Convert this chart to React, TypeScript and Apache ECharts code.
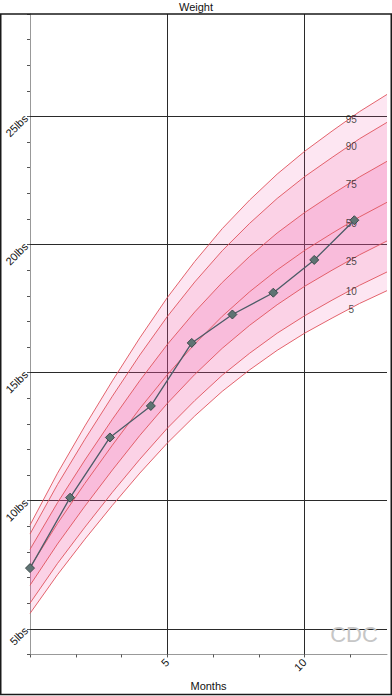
import React, { useEffect, useRef } from "react";
import * as echarts from "echarts";

// months 0..13
const months = [0, 1, 2, 3, 4, 5, 6, 7, 8, 9, 10, 11, 12, 13];
const p5 = [5.6, 7.11, 8.5, 9.82, 11.08, 12.25, 13.31, 14.27, 15.11, 15.87, 16.54, 17.13, 17.7, 18.2];
const p10 = [6.0, 7.55, 8.97, 10.33, 11.62, 12.83, 13.91, 14.9, 15.76, 16.54, 17.22, 17.83, 18.41, 18.93];
const p25 = [6.7, 8.31, 9.79, 11.2, 12.55, 13.8, 14.93, 15.95, 16.85, 17.65, 18.37, 19.0, 19.6, 20.14];
const p50 = [7.4, 9.11, 10.68, 12.17, 13.6, 14.92, 16.12, 17.2, 18.16, 19.01, 19.77, 20.44, 21.08, 21.65];
const p75 = [8.1, 9.92, 11.59, 13.18, 14.69, 16.1, 17.37, 18.52, 19.54, 20.45, 21.25, 21.96, 22.64, 23.25];
const p90 = [8.7, 10.63, 12.4, 14.08, 15.69, 17.19, 18.54, 19.76, 20.83, 21.8, 22.65, 23.4, 24.13, 24.77];
const p95 = [9.05, 11.07, 12.92, 14.68, 16.36, 17.93, 19.34, 20.62, 21.74, 22.75, 23.64, 24.43, 25.19, 25.86];

const childMonths = [0, 1.46, 2.91, 4.4, 5.89, 7.37, 8.86, 10.35, 11.81];
const childWeights = [7.37, 10.12, 12.47, 13.7, 16.16, 17.27, 18.12, 19.4, 20.95];

const yTicks = [4, 5, 6, 7, 8, 9, 10, 11, 12, 13, 14, 15, 16, 17, 18, 19, 20, 21, 22, 23, 24, 25, 26, 27, 28, 29];
const yLabels = [5, 10, 15, 20, 25];
const xTicks = [0, 1.667, 3.333, 5, 6.667, 8.333, 10, 11.667];
const xLabels = [5, 10];

const percentileNames = ["5", "10", "25", "50", "75", "90", "95"];
const labelMonth = 11.7;

const FONT = "Liberation Sans, Arial, sans-serif";
const RED = "#e0525c";
const LIGHT = "rgba(240,80,160,0.14)";
const MED = "rgba(240,80,160,0.26)";
const DARK = "rgba(240,80,160,0.38)";

export default function App() {
  const ref = useRef<HTMLDivElement>(null);
  useEffect(() => {
    if (!ref.current) return;
    const chart = echarts.init(ref.current, undefined, { renderer: "svg" });
    const curves = [p5, p10, p25, p50, p75, p90, p95];
    const bandFills = [LIGHT, MED, DARK, DARK, MED, LIGHT];

    const series: any[] = [];
    // bands between consecutive percentile curves
    series.push({
      type: "custom",
      silent: true,
      z: 2,
      data: bandFills.map((_, i) => [i]),
      renderItem: (params: any, api: any) => {
        const i = api.value(0);
        const lo = curves[i];
        const hi = curves[i + 1];
        const pts: number[][] = [];
        months.forEach((m, j) => pts.push(api.coord([m, lo[j]])));
        for (let j = months.length - 1; j >= 0; j--) pts.push(api.coord([months[j], hi[j]]));
        return {
          type: "polygon",
          shape: { points: pts },
          style: { fill: bandFills[i], stroke: "none" },
        };
      },
    });
    curves.forEach((c, i) => {
      const s: any = {
        type: "line",
        name: "p" + percentileNames[i],
        symbol: "none",
        silent: true,
        z: 3,
        lineStyle: { color: RED, width: 0.9 },
        data: months.map((m, j) => [m, c[j]]),
      };
      if (i === 0) {
        s.markLine = {
          silent: true,
          z: 1,
          symbol: ["none", "none"],
          label: { show: false },
          lineStyle: { color: "#2a2a2a", width: 1, type: "solid" },
          data: [
            ...yLabels.map((v) => ({ yAxis: v })),
            ...xLabels.map((v) => ({ xAxis: v })),
          ],
        };
      }
      series.push(s);
    });
    const labelIdx = Math.floor(labelMonth);
    const frac = labelMonth - labelIdx;
    series.push({
      type: "scatter",
      silent: true,
      symbolSize: 1,
      itemStyle: { color: "rgba(0,0,0,0)" },
      label: {
        show: true,
        position: "inside",
        formatter: (p: any) => p.name,
        color: "#1a1a1a",
        fontSize: 10,
        fontFamily: FONT,
        offset: [0, 2],
      },
      data: curves.map((c, i) => ({
        name: percentileNames[i],
        value: [labelMonth, c[labelIdx] + frac * (c[labelIdx + 1] - c[labelIdx])],
      })),
      z: 5,
    });
    series.push({
      type: "line",
      name: "child",
      symbol: "diamond",
      symbolSize: 9,
      silent: true,
      lineStyle: { color: "#4b5b66", width: 1.3 },
      itemStyle: { color: "#5f7373", borderColor: "#3e4c4c", borderWidth: 1 },
      data: childMonths.map((m, i) => [m, childWeights[i]]),
      z: 6,
    });

    chart.setOption({
      animation: false,
      title: {
        text: "Weight",
        left: "center",
        top: 1,
        padding: 0,
        textStyle: { fontSize: 11, fontWeight: "normal", color: "#111", fontFamily: FONT },
      },
      grid: { left: 30, right: 5, top: 14, bottom: 39, containLabel: false },
      xAxis: {
        type: "value",
        min: 0,
        max: 13,
        name: "Months",
        nameLocation: "middle",
        nameGap: 24,
        nameTextStyle: { fontSize: 11, color: "#111", fontFamily: FONT },
        axisLine: { show: true, lineStyle: { color: "#999", width: 1 } },
        axisTick: { show: true, customValues: xTicks, length: 3, lineStyle: { color: "#555" } },
        axisLabel: {
          customValues: xLabels,
          rotate: 45,
          fontSize: 11,
          color: "#111",
          fontFamily: FONT,
          margin: 6,
        },
        splitLine: { show: false },
      },
      yAxis: {
        type: "value",
        min: 4,
        max: 29,
        axisLine: { show: true, lineStyle: { color: "#999", width: 1 } },
        axisTick: { show: true, customValues: yTicks, length: 3, lineStyle: { color: "#555" } },
        axisLabel: {
          customValues: yLabels,
          rotate: 45,
          fontSize: 11,
          color: "#111",
          fontFamily: FONT,
          margin: 4,
          formatter: (v: number) => v + "lbs",
        },
        splitLine: { show: false },
      },
      graphic: [
        {
          type: "rect",
          silent: true,
          shape: { x: 0.75, y: 14, width: 390.5, height: 680.5 },
          style: { fill: "none", stroke: "#1a1a1a", lineWidth: 1.5 },
          z: 10,
        },
        {
          type: "text",
          silent: true,
          x: 354,
          y: 634,
          style: {
            text: "CDC",
            fill: "#c6c6c6",
            font: "22px " + FONT,
            textAlign: "center",
            textVerticalAlign: "middle",
          },
          z: 10,
        },
      ],
      series,
    });
    return () => chart.dispose();
  }, []);
  return (
    <div
      ref={ref}
      style={{ position: "fixed", left: 0, top: 0, width: 392, height: 696, background: "#fff" }}
    />
  );
}
